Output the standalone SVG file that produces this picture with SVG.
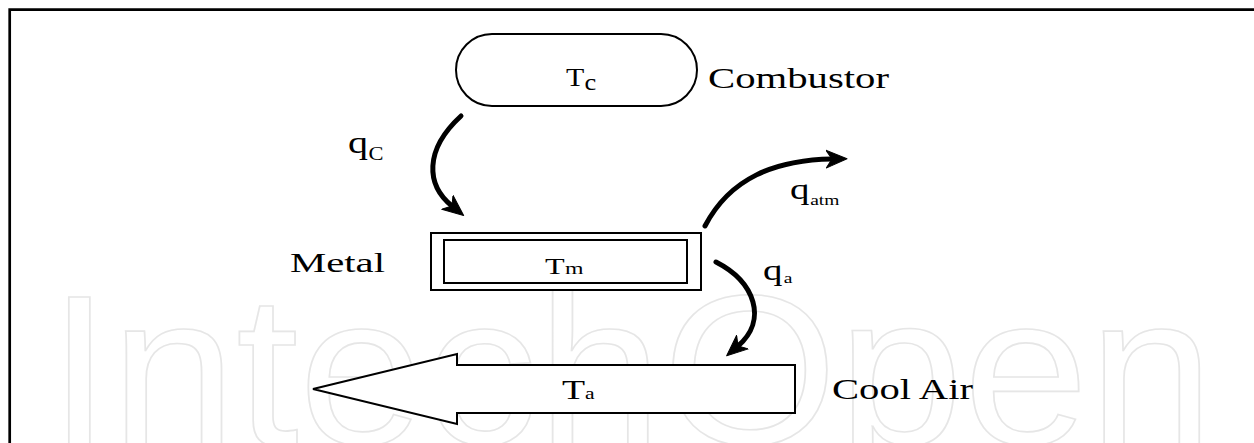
<svg xmlns="http://www.w3.org/2000/svg" width="1254" height="443" viewBox="0 0 1254 443">
<style>
.lbl{font-family:"Liberation Serif","Times New Roman",serif;fill:#000}
.shape{fill:#fff;stroke:#000;stroke-width:2}
.flow{fill:none;stroke:#000;stroke-width:5;stroke-linecap:round}
.wm{font-family:"Liberation Sans",Arial,sans-serif;font-size:213px;fill:none;stroke:#e6e6e6;stroke-width:1.6}
</style>
<defs>
<marker id="ah" markerUnits="userSpaceOnUse" markerWidth="24" markerHeight="22" refX="6" refY="10" orient="auto" viewBox="0 0 24 22">
<path d="M0,1 L21,10 L0,19 L6,10 z" fill="#000" stroke="#000" stroke-width="1" stroke-linejoin="round"/>
</marker>
</defs>
<rect width="1254" height="443" fill="#fff"/>
<text class="wm" x="48" y="444" textLength="1166" lengthAdjust="spacingAndGlyphs">IntechOpen</text>
<path d="M9.7,443 V9.7 H1254" fill="none" stroke="#000" stroke-width="2.7"/>

<g id="combustor">
<rect class="shape" x="456" y="34" width="241" height="72" rx="36" ry="36"/>
<text class="lbl" font-size="26" transform="translate(566,86) scale(1.15,1)"><tspan x="0" y="0">T</tspan><tspan x="16" y="4" font-size="23">c</tspan></text>
<text class="lbl" x="708" y="88" font-size="29" textLength="181" lengthAdjust="spacingAndGlyphs">Combustor</text>
</g>

<g id="metal">
<rect class="shape" x="431" y="233" width="270" height="57"/>
<rect class="shape" x="444" y="240" width="243" height="43"/>
<text class="lbl" font-size="23" transform="translate(545,274) scale(1.4,1)"><tspan x="0" y="0">T</tspan><tspan x="14.3" y="0" font-size="17">m</tspan></text>
<text class="lbl" x="290" y="272" font-size="28" textLength="95" lengthAdjust="spacingAndGlyphs">Metal</text>
</g>

<g id="coolair">
<path class="shape" d="M313,389 L457,354 L457,365 L795,365 L795,413 L457,413 L457,424 Z"/>
<text class="lbl" font-size="28" transform="translate(562,399) scale(1.35,1)"><tspan x="0" y="0">T</tspan><tspan x="17" y="0" font-size="16">a</tspan></text>
<text class="lbl" x="832" y="399" font-size="29" textLength="141" lengthAdjust="spacingAndGlyphs">Cool Air</text>
</g>

<g id="connectors">
<path class="flow" d="M461,116 C424,150 426,185 452,206" marker-end="url(#ah)"/>
<path class="flow" d="M705,226 C730,178 775,160 832,159" marker-end="url(#ah)"/>
<path class="flow" d="M716,262 C755,282 768,320 738,346" marker-end="url(#ah)"/>
</g>

<g id="labels">
<text class="lbl" font-size="32" transform="translate(348,153) scale(1.25,1)"><tspan x="0" y="0">q</tspan><tspan x="16.5" y="7" font-size="18">C</tspan></text>
<text class="lbl" font-size="30" transform="translate(790,199) scale(1.3,1)"><tspan x="0" y="0">q</tspan><tspan x="15.5" y="6" font-size="15">atm</tspan></text>
<text class="lbl" font-size="30" transform="translate(763,280) scale(1.3,1)"><tspan x="0" y="0">q</tspan><tspan x="16" y="3" font-size="15">a</tspan></text>
</g>
</svg>
